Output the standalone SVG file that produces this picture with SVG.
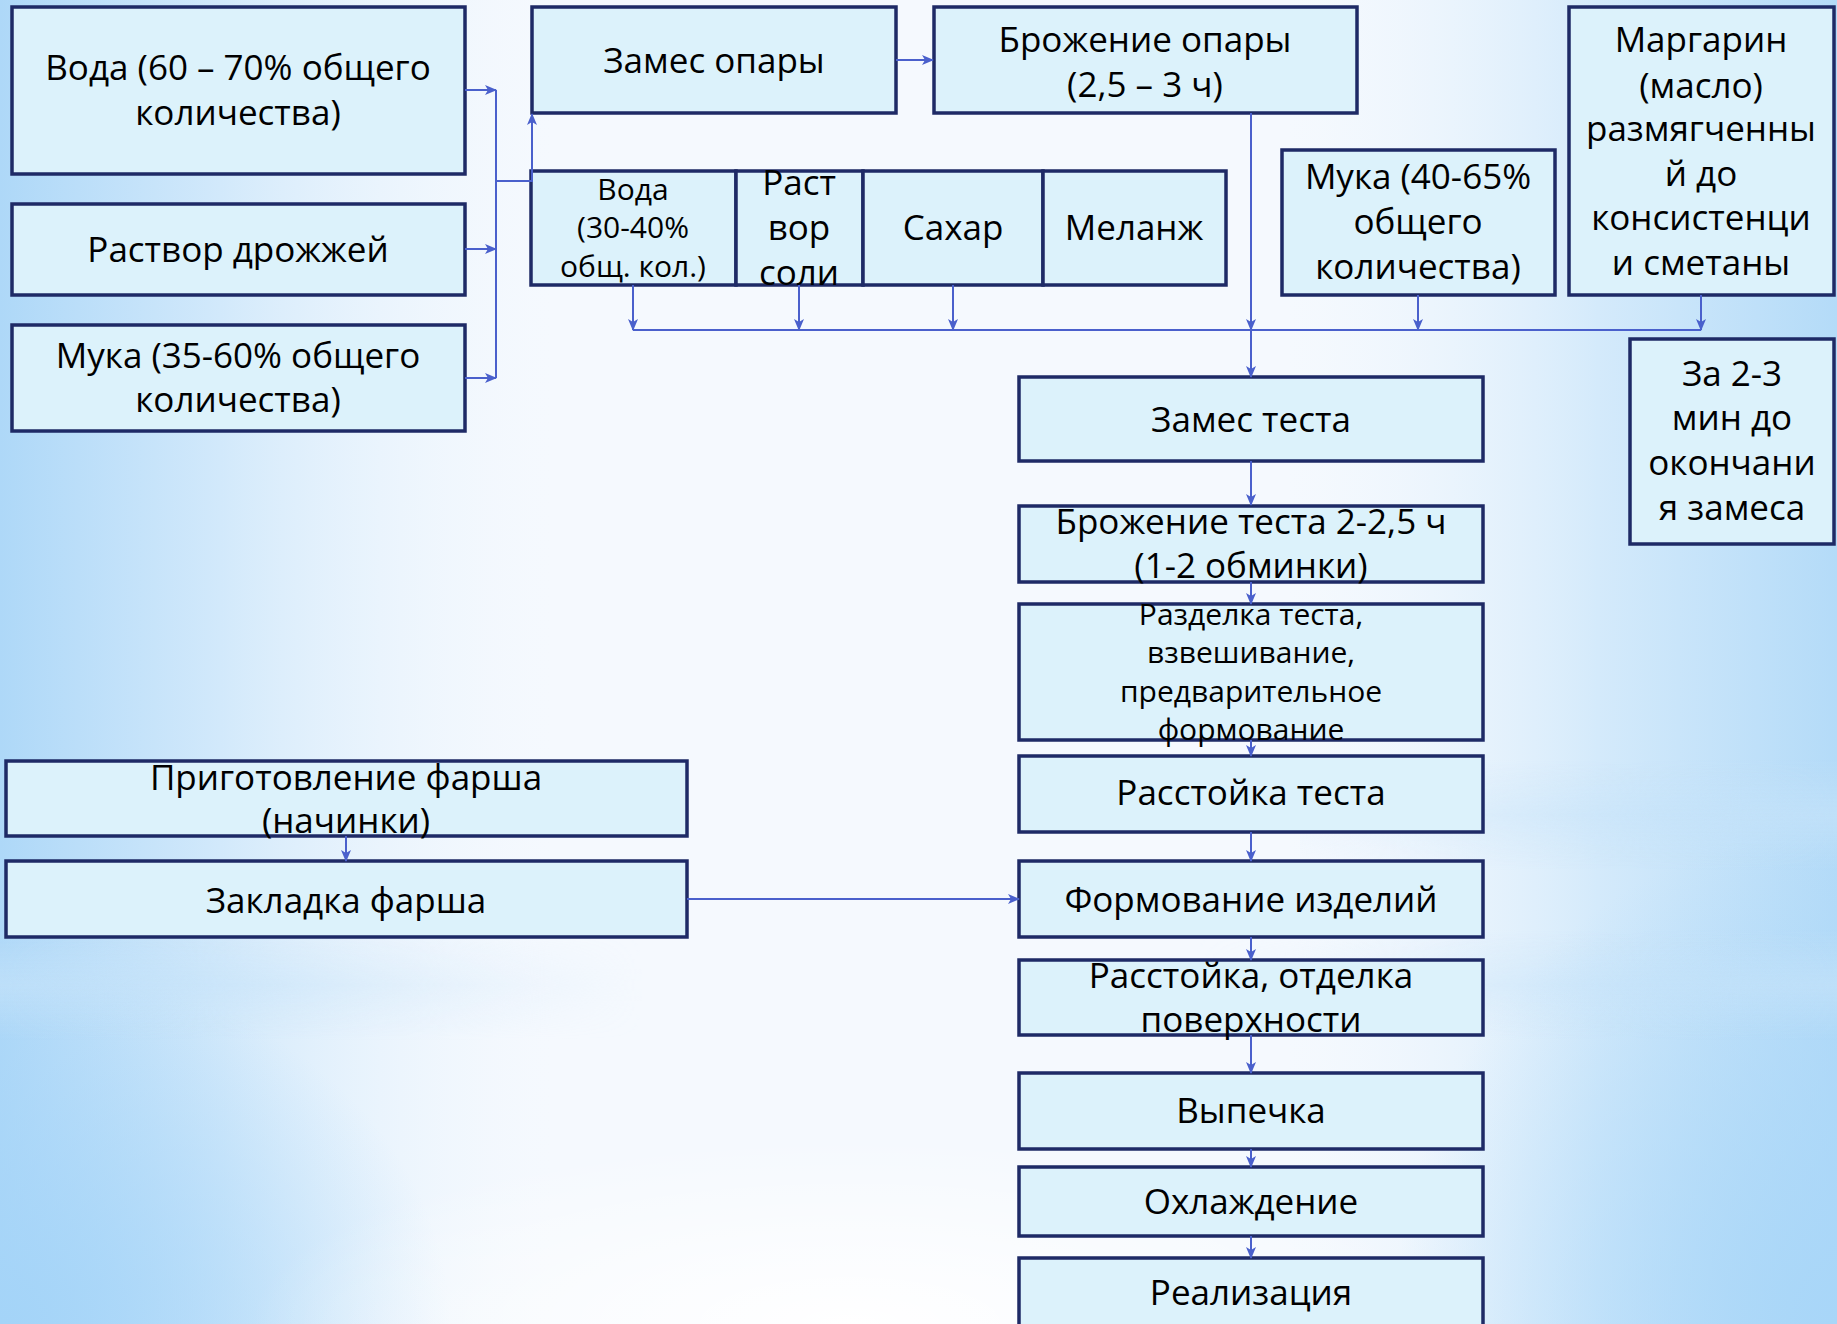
<svg xmlns="http://www.w3.org/2000/svg" width="1837" height="1324" viewBox="0 0 1837 1324">
<defs>
<linearGradient id="bgH" x1="0" y1="0" x2="1" y2="0">
<stop offset="0" stop-color="#aed8f8"/>
<stop offset="0.12" stop-color="#d2e9fb"/>
<stop offset="0.3" stop-color="#eef6fd" stop-opacity="0"/>
<stop offset="0.7" stop-color="#eef6fd" stop-opacity="0"/>
<stop offset="0.87" stop-color="#d4eafb"/>
<stop offset="1" stop-color="#b4dbf8"/>
</linearGradient>
<radialGradient id="bgWhite" cx="0.5" cy="1.0" r="0.5">
<stop offset="0" stop-color="#ffffff"/>
<stop offset="1" stop-color="#ffffff" stop-opacity="0"/>
</radialGradient>
<radialGradient id="bgBL" cx="0" cy="1" r="0.5">
<stop offset="0" stop-color="#a4d4f8"/>
<stop offset="1" stop-color="#a4d4f8" stop-opacity="0"/>
</radialGradient>
<radialGradient id="bgBR" cx="1" cy="1" r="0.6">
<stop offset="0" stop-color="#a8d6f8"/>
<stop offset="1" stop-color="#a8d6f8" stop-opacity="0"/>
</radialGradient>
<linearGradient id="band" x1="0" y1="0" x2="0" y2="1">
<stop offset="0" stop-color="#c4e2f9" stop-opacity="0"/>
<stop offset="0.5" stop-color="#c4e2f9" stop-opacity="0.7"/>
<stop offset="1" stop-color="#c4e2f9" stop-opacity="0"/>
</linearGradient>
<linearGradient id="bandMaskG" x1="0" y1="0" x2="1" y2="0">
<stop offset="0" stop-color="#fff"/>
<stop offset="0.35" stop-color="#000"/>
<stop offset="0.65" stop-color="#000"/>
<stop offset="1" stop-color="#fff"/>
</linearGradient>
<mask id="bandMask"><rect x="0" y="0" width="1837" height="1324" fill="url(#bandMaskG)"/></mask>
<marker id="ah" viewBox="0 0 12 10" refX="11" refY="5" markerWidth="12" markerHeight="10" markerUnits="userSpaceOnUse" orient="auto">
<path d="M0,0 L12,5 L0,10 L3,5 z" fill="#4a60cc"/>
</marker>
</defs>
<style>
.box{fill:#dcf2fb;stroke:#1e2a66;stroke-width:3.5}
.t{font-family:"Open Sans","DejaVu Sans",sans-serif;font-size:35px;fill:#000;text-anchor:middle}
.s{font-size:30px}
.c{fill:none;stroke:#4a60cc;stroke-width:2}
.a{marker-end:url(#ah)}
</style>
<g id="background">
<rect x="0" y="0" width="1837" height="1324" fill="#f5f9fe"/>
<rect x="0" y="0" width="1837" height="1324" fill="url(#bgH)"/>
<rect x="1100" y="500" width="737" height="824" fill="url(#bgBR)"/>
<rect x="0" y="600" width="900" height="724" fill="url(#bgBL)"/>
<g mask="url(#bandMask)"><rect x="0" y="930" width="1837" height="110" fill="url(#band)"/><rect x="1300" y="760" width="537" height="110" fill="url(#band)"/></g>
<rect x="250" y="950" width="1200" height="374" fill="url(#bgWhite)"/>
</g>

<g id="n-voda1"><rect class="box" x="12" y="7" width="453" height="167"/><text class="t" x="238" y="80">Вода (60 – 70% общего</text><text class="t" x="238" y="125">количества)</text></g>
<g id="n-rastvor"><rect class="box" x="12" y="204" width="453" height="91"/><text class="t" x="238" y="262">Раствор дрожжей</text></g>
<g id="n-muka1"><rect class="box" x="12" y="325" width="453" height="106"/><text class="t" x="238" y="368">Мука (35-60% общего</text><text class="t" x="238" y="412">количества)</text></g>
<g id="n-zames-opary"><rect class="box" x="532" y="7" width="364" height="106"/><text class="t" x="714" y="73">Замес опары</text></g>
<g id="n-brozh-opary"><rect class="box" x="934" y="7" width="423" height="106"/><text class="t" x="1145" y="52">Брожение опары</text><text class="t" x="1145" y="97">(2,5 – 3 ч)</text></g>
<g id="n-voda2"><rect class="box" x="531" y="171" width="205" height="114"/><text class="t s" x="633" y="200">Вода</text><text class="t s" x="633" y="238">(30-40%</text><text class="t s" x="633" y="277">общ. кол.)</text></g>
<g id="n-rast-soli"><rect class="box" x="736" y="171" width="127" height="114"/><text class="t" x="799" y="195">Раст</text><text class="t" x="799" y="240">вор</text><text class="t" x="799" y="285">соли</text></g>
<g id="n-sahar"><rect class="box" x="863" y="171" width="180" height="114"/><text class="t" x="953" y="240">Сахар</text></g>
<g id="n-melanzh"><rect class="box" x="1043" y="171" width="183" height="114"/><text class="t" x="1134" y="240">Меланж</text></g>
<g id="n-muka2"><rect class="box" x="1282" y="150" width="273" height="145"/><text class="t" x="1418" y="189">Мука (40-65%</text><text class="t" x="1418" y="234">общего</text><text class="t" x="1418" y="279">количества)</text></g>
<g id="n-margarin"><rect class="box" x="1569" y="7" width="265" height="288"/><text class="t" x="1701" y="52">Маргарин</text><text class="t" x="1701" y="98">(масло)</text><text class="t" x="1701" y="141">размягченны</text><text class="t" x="1701" y="186">й до</text><text class="t" x="1701" y="230">консистенци</text><text class="t" x="1701" y="275">и сметаны</text></g>
<g id="n-za23"><rect class="box" x="1630" y="339" width="204" height="205"/><text class="t" x="1732" y="386">За 2-3</text><text class="t" x="1732" y="430">мин до</text><text class="t" x="1732" y="475">окончани</text><text class="t" x="1732" y="520">я замеса</text></g>
<g id="n-zames-testa"><rect class="box" x="1019" y="377" width="464" height="84"/><text class="t" x="1251" y="432">Замес теста</text></g>
<g id="n-brozh-testa"><rect class="box" x="1019" y="506" width="464" height="76"/><text class="t" x="1251" y="534">Брожение теста 2-2,5 ч</text><text class="t" x="1251" y="578">(1-2 обминки)</text></g>
<g id="n-razdelka"><rect class="box" x="1019" y="604" width="464" height="136"/><text class="t s" x="1251" y="625">Разделка теста,</text><text class="t s" x="1251" y="663">взвешивание,</text><text class="t s" x="1251" y="702">предварительное</text><text class="t s" x="1251" y="740">формование</text></g>
<g id="n-rasstoika"><rect class="box" x="1019" y="756" width="464" height="76"/><text class="t" x="1251" y="805">Расстойка теста</text></g>
<g id="n-formovanie"><rect class="box" x="1019" y="861" width="464" height="76"/><text class="t" x="1251" y="912">Формование изделий</text></g>
<g id="n-rasst-otdelka"><rect class="box" x="1019" y="960" width="464" height="75"/><text class="t" x="1251" y="988">Расстойка, отделка</text><text class="t" x="1251" y="1032">поверхности</text></g>
<g id="n-vypechka"><rect class="box" x="1019" y="1073" width="464" height="76"/><text class="t" x="1251" y="1123">Выпечка</text></g>
<g id="n-ohlazhdenie"><rect class="box" x="1019" y="1167" width="464" height="69"/><text class="t" x="1251" y="1214">Охлаждение</text></g>
<g id="n-realizacia"><rect class="box" x="1019" y="1258" width="464" height="90"/><text class="t" x="1251" y="1305">Реализация</text></g>
<g id="n-prigotovlenie"><rect class="box" x="6" y="761" width="681" height="75"/><text class="t" x="346" y="790">Приготовление фарша</text><text class="t" x="346" y="833">(начинки)</text></g>
<g id="n-zakladka"><rect class="box" x="6" y="861" width="681" height="76"/><text class="t" x="346" y="913">Закладка фарша</text></g>

<g id="connectors">
<path class="c a" d="M465,90 H496"/>
<path class="c a" d="M465,249 H496"/>
<path class="c a" d="M465,378 H496"/>
<path class="c" d="M496,90 V378"/>
<path class="c a" d="M496,181 H532 V114"/>
<path class="c a" d="M896,60 H933"/>
<path class="c a" d="M633,285 V330"/>
<path class="c a" d="M799,285 V330"/>
<path class="c a" d="M953,285 V330"/>
<path class="c" d="M633,330 H1701"/>
<path class="c a" d="M1418,295 V330"/>
<path class="c a" d="M1701,295 V330"/>
<path class="c a" d="M1251,113 V330"/>
<path class="c a" d="M1251,330 V377"/>
<path class="c a" d="M1251,461 V505"/>
<path class="c a" d="M1251,582 V604"/>
<path class="c a" d="M1251,740 V756"/>
<path class="c a" d="M1251,832 V861"/>
<path class="c a" d="M1251,937 V960"/>
<path class="c a" d="M1251,1035 V1073"/>
<path class="c a" d="M1251,1149 V1167"/>
<path class="c a" d="M1251,1236 V1258"/>
<path class="c a" d="M346,836 V861"/>
<path class="c a" d="M687,899 H1019"/>
</g>
</svg>
